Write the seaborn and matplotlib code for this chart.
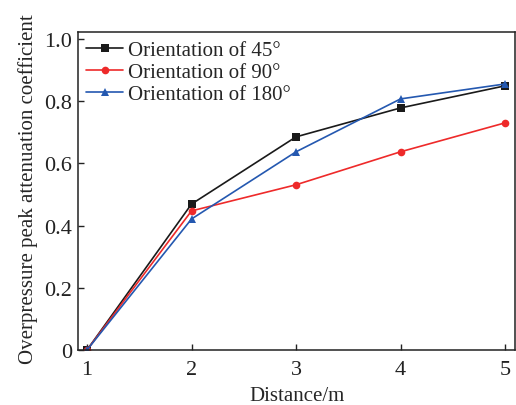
"""Overpressure peak attenuation coefficient vs distance."""

import matplotlib
matplotlib.use("Agg")
import matplotlib.pyplot as plt
import pandas as pd
import seaborn as sns

distance = [1, 2, 3, 4, 5]
orient_45 = [0.0, 0.469, 0.685, 0.778, 0.849]
orient_90 = [0.0, 0.447, 0.531, 0.637, 0.730]
orient_180 = [0.0, 0.421, 0.637, 0.807, 0.855]
labels = ["Orientation of 45°", "Orientation of 90°", "Orientation of 180°"]

df = pd.DataFrame({
    "Distance": distance * 3,
    "Coef": orient_45 + orient_90 + orient_180,
    "Series": [labels[0]] * 5 + [labels[1]] * 5 + [labels[2]] * 5,
})

sns.set_style("ticks")
plt.rcParams["font.family"] = ["Liberation Serif", "DejaVu Serif"]

fig = plt.figure(figsize=(5.16, 4.06), dpi=100)
ax = fig.add_axes([78 / 516, 1 - 351 / 406, (515 - 78) / 516, (351 - 33) / 406])

palette = {labels[0]: "#1a1a1a", labels[1]: "#ee2a2a", labels[2]: "#2458b0"}
markers = {labels[0]: "s", labels[1]: "o", labels[2]: "^"}
sns.lineplot(
    data=df, x="Distance", y="Coef", hue="Series", style="Series",
    palette=palette, markers=markers, dashes=False, markersize=5.5,
    linewidth=1.2, markeredgewidth=0, ax=ax,
)

ax.set_xlim(0.914, 5.095)
ax.set_ylim(0, 1.022)
ax.set_xticks([1, 2, 3, 4, 5])
ax.set_yticks([0, 0.2, 0.4, 0.6, 0.8, 1.0])
ax.set_yticklabels(["0", "0.2", "0.4", "0.6", "0.8", "1.0"])
ax.tick_params(direction="in", length=4, width=1, labelsize=16, colors="#222222")
ax.tick_params(axis="x", pad=7)
ax.tick_params(axis="y", pad=4)
for s in ax.spines.values():
    s.set_linewidth(1.1)
    s.set_color("#222222")

ax.set_xlabel("Distance/m", fontsize=15, labelpad=5)
ax.set_ylabel("Overpressure peak attenuation coefficient", fontsize=15)
ax.yaxis.set_label_coords(-0.092, 0.51)

ax.legend(loc="upper left", frameon=False, fontsize=15, handlelength=1.75,
          handletextpad=0.25, labelspacing=0.12, borderpad=0.3,
          borderaxespad=0.1, bbox_to_anchor=(0.0, 1.0))

fig.savefig("out.png", dpi=100)
plt.close(fig)
